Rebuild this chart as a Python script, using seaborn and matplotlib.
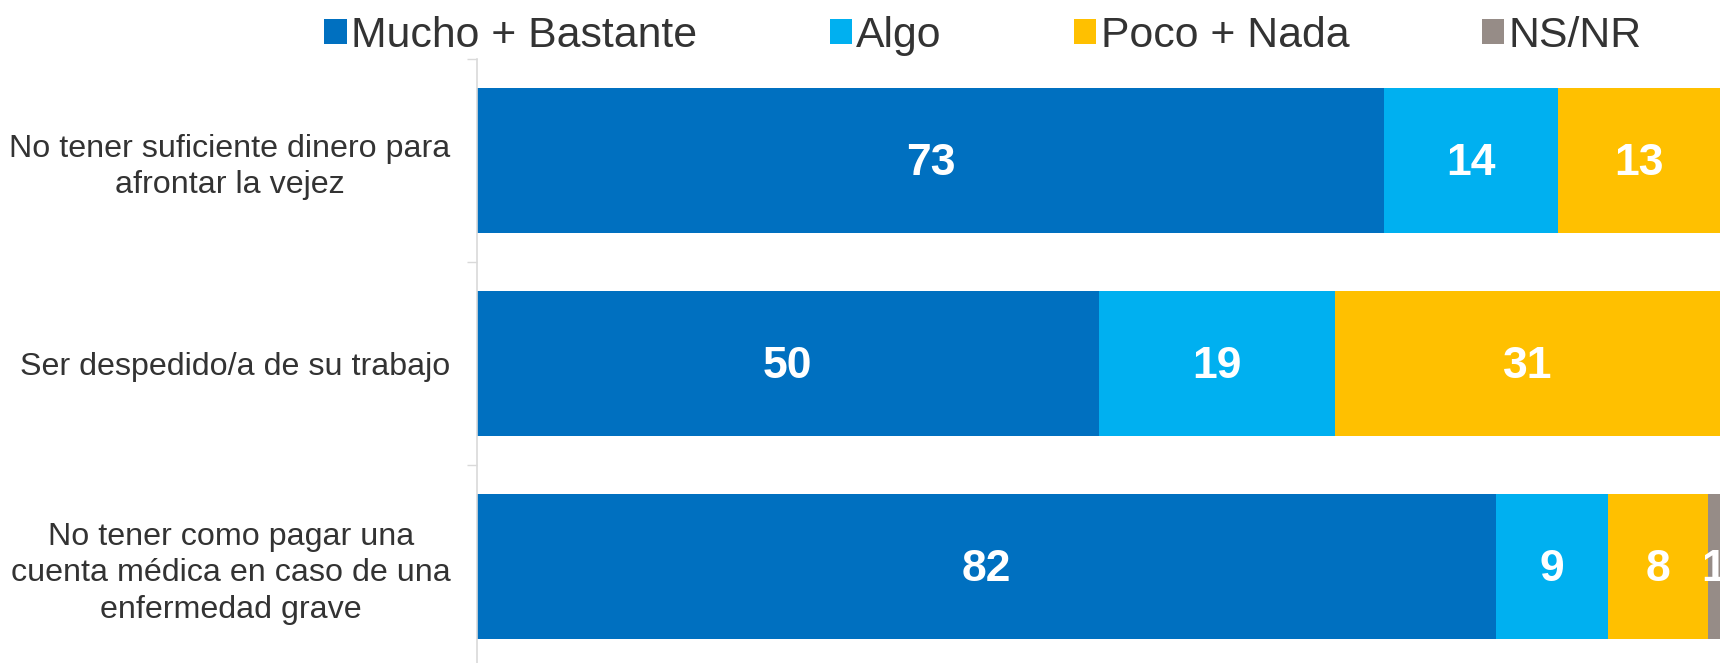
import matplotlib
matplotlib.use("Agg")
import matplotlib.pyplot as plt
from matplotlib.patches import Patch
import numpy as np
import seaborn as sns

categories = [
    "No tener suficiente dinero para\nafrontar la vejez",
    "Ser despedido/a de su trabajo",
    "No tener como pagar una\ncuenta médica en caso de una\nenfermedad grave",
]
series_names = ["Mucho + Bastante", "Algo", "Poco + Nada", "NS/NR"]
mucho = [73, 50, 82]
algo = [14, 19, 9]
poco = [13, 31, 8]
nsnr = [0, 0, 1]
colors = ["#0070C0", "#00B0F0", "#FFC000", "#968C87"]

sns.set_theme(style="white")
plt.rcParams["font.family"] = ["Liberation Sans", "DejaVu Sans"]

fig = plt.figure(figsize=(17.2, 6.63), dpi=100)
ax = fig.add_axes([477 / 1720, -5 / 663, 1243 / 1720, 609 / 663])

series = [mucho, algo, poco, nsnr]
cums = np.cumsum(np.array(series, dtype=float), axis=0)
# draw from back (full cumulative) to front
for i in range(len(series) - 1, -1, -1):
    sns.barplot(x=cums[i], y=categories, orient="h", color=colors[i],
                width=0.71, ax=ax, saturation=1, linewidth=0)

# value labels
for i, vals in enumerate(series):
    for j, v in enumerate(vals):
        if v <= 0:
            continue
        center = cums[i][j] - v / 2
        ax.text(center, j + 0.015, f"{v}", ha="center", va="center", color="white",
                fontsize=32, fontweight="bold", clip_on=False)

ax.set_xlim(0, 100)
ax.set_ylim(2.5, -0.5)
ax.set_xlabel("")
ax.set_ylabel("")
ax.set_xticks([])

for s in ["top", "right", "bottom"]:
    ax.spines[s].set_visible(False)
ax.spines["left"].set_color("#D9D9D9")
ax.spines["left"].set_linewidth(1.2)

ax.set_yticks([-0.5, 0.5, 1.5, 2.5], minor=True)
ax.tick_params(axis="y", which="minor", length=7.2, width=1.0, color="#D9D9D9", left=True)
ax.tick_params(axis="y", which="major", length=0, pad=19, labelsize=23.2, labelcolor="#333333")
for lab in ax.get_yticklabels():
    lab.set_multialignment("center")
    lab.set_linespacing(1.28)

handles = [Patch(facecolor=c, edgecolor="none") for c in colors]
fig.legend(handles, series_names, loc="center", bbox_to_anchor=(983 / 1720, 1 - 36 / 663),
           ncol=4, frameon=False, fontsize=30.8, handlelength=0.52, handleheight=0.52,
           handletextpad=0.1, columnspacing=3.1, labelcolor="#333333")

fig.savefig("out.png", dpi=100)
